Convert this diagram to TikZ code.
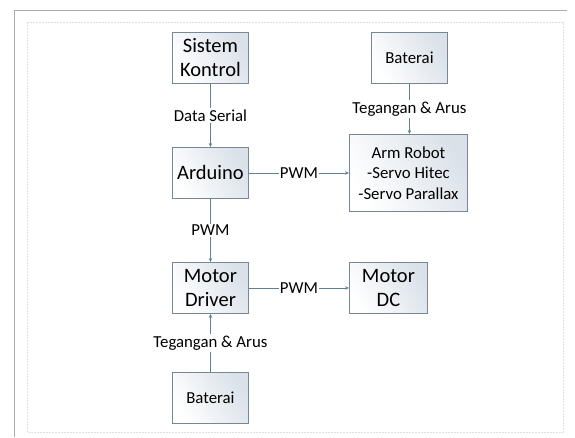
\documentclass[tikz,border=0pt]{standalone}
\usepackage{fontspec}
\setmainfont{Carlito}
\usetikzlibrary{arrows.meta}
\definecolor{lineC}{RGB}{96,128,152}
\definecolor{boxC}{RGB}{120,135,150}
\definecolor{fillC}{RGB}{218,225,233}
\tikzset{
  blk/.style={draw=boxC, line width=0.9pt, left color=fillC, right color=white, shading angle=300,
    anchor=north west, inner sep=0pt, align=center, text=black},
  big/.style={font=\fontsize{20.5}{24}\selectfont},
  small/.style={font=\fontsize{16.8}{20.5}\selectfont},
  conn/.style={draw=lineC, line width=0.8pt, -{Stealth[length=4pt,width=3.5pt]}},
  lbl/.style={fill=white, inner sep=1.5pt, font=\fontsize{16.8}{20}\selectfont, text=black},
}
\begin{document}
\begin{tikzpicture}[x=1pt,y=-1pt]
\useasboundingbox (0,0) rectangle (575,437);
% frames
\draw[gray!65, line width=0.8pt] (567,10) -- (14,10) -- (14,437);
\draw[gray!25, dashed, line width=0.5pt, dash pattern=on 2pt off 1pt] (27,22) rectangle (563,432);
% boxes
\node[blk, big, minimum width=76pt, minimum height=51pt] (sk) at (172,32) {Sistem\\Kontrol};
\node[blk, big, minimum width=76pt, minimum height=51pt] (ard) at (172,147) {Arduino};
\node[blk, small, minimum width=76pt, minimum height=51pt] (bat1) at (371,32) {Baterai};
\node[blk, small, minimum width=118pt, minimum height=77pt] (arm) at (349,134) {Arm Robot\\-Servo Hitec\\-Servo Parallax};
\node[blk, big, minimum width=76pt, minimum height=51pt] (md) at (172,262) {Motor\\Driver};
\node[blk, big, minimum width=78pt, minimum height=51pt] (mdc) at (349,262) {Motor\\DC};
\node[blk, small, minimum width=76pt, minimum height=51pt] (bat2) at (172,372) {Baterai};
% connectors
\draw[conn] (sk.south) -- node[lbl] {Data Serial} (ard.north);
\draw[conn] (bat1.south) -- node[lbl] {Tegangan \& Arus} (arm.north -| bat1.south);
\draw[conn] (ard.east) -- node[lbl, inner sep=1pt] {PWM} (ard.east -| arm.west);
\draw[conn] (ard.south) -- node[lbl] {PWM} (md.north);
\draw[conn] (md.east) -- node[lbl, inner sep=1pt] {PWM} (mdc.west);
\draw[conn] (bat2.north) -- node[lbl] {Tegangan \& Arus} (md.south);
\end{tikzpicture}
\end{document}
